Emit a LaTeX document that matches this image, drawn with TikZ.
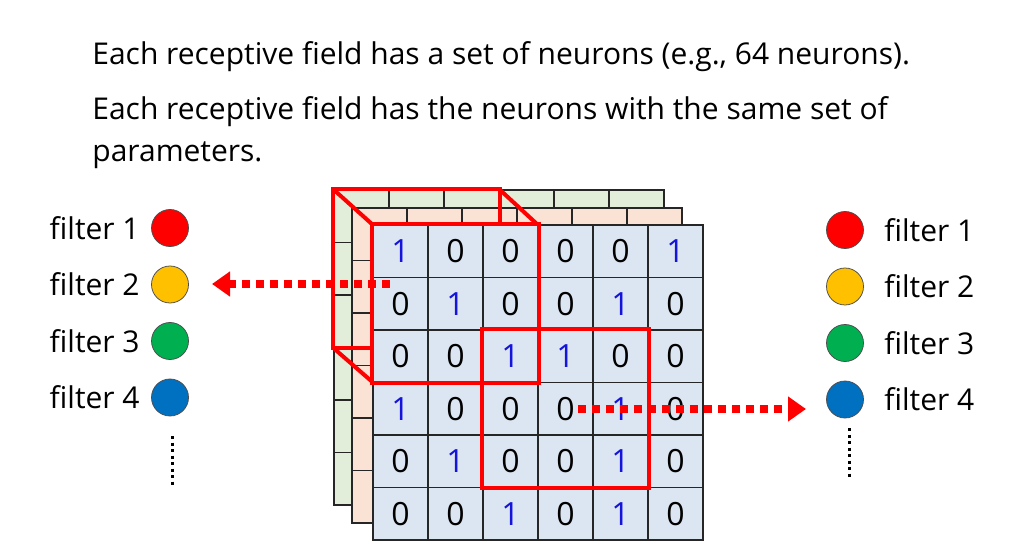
\documentclass[tikz,border=0pt]{standalone}
\usepackage{fontspec}
\setmainfont{Open Sans}
\usetikzlibrary{arrows.meta}
\definecolor{frontblue}{RGB}{220,230,242}
\definecolor{midpeach}{RGB}{250,226,212}
\definecolor{backgreen}{RGB}{226,238,218}
\definecolor{onesblue}{RGB}{20,20,220}
\definecolor{fred}{RGB}{255,0,0}
\definecolor{fyellow}{RGB}{255,192,0}
\definecolor{fgreen}{RGB}{0,176,80}
\definecolor{fblue}{RGB}{0,112,192}
\tikzset{every picture/.style={line width=0.75pt}}
\tikzset{
  cell/.style={draw=black!85, line width=1.1pt, minimum width=55pt, minimum height=52.5pt, inner sep=0pt, font=\fontsize{32}{32}\selectfont},
  flabel/.style={font=\fontsize{30}{34}\selectfont, inner sep=0pt},
  fdot/.style={circle, draw=black!70, minimum size=37pt, inner sep=0pt},
  field/.style={draw=fred, line width=4pt},
  dotarrow/.style={fred, line width=8pt, dash pattern=on 8pt off 6pt, -{Triangle[length=18pt,width=24pt]}}
}
\begin{document}
\begin{tikzpicture}[x=1pt,y=-1pt]
    \useasboundingbox (0,0) rectangle (1010,548);

    % heading text
    \node[flabel, anchor=west] (line1) at (92,57) {Each receptive field has a set of neurons (e.g., 64 neurons).};
    \node[flabel, anchor=west] (line2) at (92,112) {Each receptive field has the neurons with the same set of};
    \node[flabel, anchor=west] (line3) at (92,155) {parameters.};

    % back and middle channels
    \foreach \r in {1,...,6}
      \foreach \c in {1,...,6}
        \node[cell, fill=backgreen] (g-\r-\c) at ({334+55*(\c-0.5)},{190+52.5*(\r-0.5)}) {};
    \foreach \r in {1,...,6}
      \foreach \c in {1,...,6}
        \node[cell, fill=midpeach] (p-\r-\c) at ({352+55*(\c-0.5)},{208+52.5*(\r-0.5)}) {};

    % receptive field, back part
    \draw[field] (g-1-1.north west) rectangle (g-3-3.south east);
    \draw[field] (g-1-1.north west) -- (373,225);
    \draw[field] (g-1-3.north east) -- (538,225);
    \draw[field] (g-3-1.south west) -- (373,382.5);

    % front channel
    \foreach \row [count=\r] in {{1,0,0,0,0,1},{0,1,0,0,1,0},{0,0,1,1,0,0},{1,0,0,0,1,0},{0,1,0,0,1,0},{0,0,1,0,1,0}}
      \foreach \v [count=\c] in \row {
        \ifnum\v=1 \def\vc{onesblue}\else \def\vc{black}\fi
        \node[cell, fill=frontblue, text=\vc] (f-\r-\c) at ({373+55*(\c-0.5)},{225+52.5*(\r-0.5)}) {\v};
      }

    % receptive fields, front part
    \draw[field] (f-1-1.north west) rectangle (f-3-3.south east);
    \draw[field] (f-3-3.north west) rectangle (f-5-5.south east);

    % filters, left
    \foreach \n/\col [count=\i] in {1/fred,2/fyellow,3/fgreen,4/fblue} {
      \node[fdot, fill=\col] (ld-\i) at (170,{228+56.5*(\i-1)}) {};
      \node[flabel, anchor=east] (ll-\i) at (140,{228+56.5*(\i-1)}) {filter \n};
    }
    % filters, right
    \foreach \n/\col [count=\i] in {1/fred,2/fyellow,3/fgreen,4/fblue} {
      \node[fdot, fill=\col] (rd-\i) at (845,{230+56.5*(\i-1)}) {};
      \node[flabel, anchor=west] (rl-\i) at (884,{230+56.5*(\i-1)}) {filter \n};
    }
    \draw[line width=3pt, dash pattern=on 3pt off 3.5pt] (172,436) -- (172,486);
    \draw[line width=3pt, dash pattern=on 3pt off 3.5pt] (849,428) -- (849,480);

    % arrows
    \coordinate (lstart) at (390,284);
    \coordinate (rstart) at (578,409);
    \draw[dotarrow] (lstart) -- (212,284);
    \draw[dotarrow] (rstart) -- (806,409);
\end{tikzpicture}
\end{document}
